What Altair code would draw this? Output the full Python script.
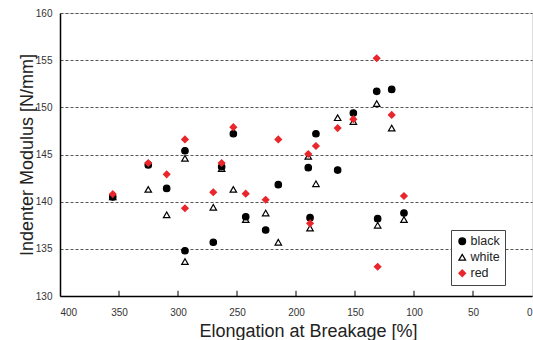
import altair as alt
import pandas as pd

# Elongation at breakage [%] per sample (shared by the three series)
elongation = [355.3, 325.2, 309.6, 294.1, 294.1, 270.1, 263.0, 253.1, 242.6, 225.7,
              215.0, 189.6, 188.1, 183.1, 164.7, 151.4, 131.6, 130.8, 118.9, 108.5]
black = [140.5, 143.9, 141.4, 145.4, 134.8, 135.7, 143.7, 147.2, 138.4, 137.0,
         141.8, 143.6, 138.3, 147.2, 143.35, 149.4, 151.7, 138.2, 151.9, 138.8]
white = [140.5, 141.3, 138.6, 144.6, 133.65, 139.4, 143.5, 141.3, 138.1, 138.8,
         135.7, 144.8, 137.2, 141.9, 148.9, 148.5, 150.4, 137.5, 147.8, 138.1]
red = [140.8, 144.1, 142.9, 146.6, 139.3, 141.0, 144.1, 147.9, 140.85, 140.2,
       146.6, 145.05, 137.7, 145.9, 147.8, 148.75, 155.2, 133.1, 149.2, 140.6]

series_names = ["black", "white", "red"]
x_ticks = [400, 350, 300, 250, 200, 150, 100, 50, 0]
y_ticks = [130, 135, 140, 145, 150, 155, 160]

rows = []
for name, vals in [("white", white), ("black", black), ("red", red)]:
    for e, v in zip(elongation, vals):
        rows.append({"elong": e, "mod": v, "series": name})
df = pd.DataFrame(rows)

W, H = 472, 283
FONT = "Liberation Sans"

xscale = alt.Scale(domain=[400, 0], nice=False, zero=False)
yscale = alt.Scale(domain=[130, 160], nice=False, zero=False)

leg = alt.Legend(orient="none", legendX=391, legendY=217, title=None,
                 strokeColor="#444", fillColor="white", padding=5,
                 labelFont=FONT, labelFontSize=12.5, labelColor="#222",
                 symbolSize=45, symbolStrokeWidth=1.2, rowPadding=3, labelOffset=2)

points = alt.Chart(df).mark_point(filled=False, size=42, strokeWidth=1.2, opacity=1).encode(
    x=alt.X("elong:Q", scale=xscale,
            axis=alt.Axis(values=x_ticks, title="Elongation at Breakage [%]", grid=False,
                          ticks=False, domainColor="black", domainWidth=1.5,
                          labelFont=FONT, labelFontSize=10, labelColor="#333",
                          labelPadding=11, titleFont=FONT, titleFontSize=18,
                          titleFontWeight="normal", titleColor="#222",
                          titleX=248, titleY=35, titleBaseline="middle")),
    y=alt.Y("mod:Q", scale=yscale,
            axis=alt.Axis(values=y_ticks, title="Indenter Modulus [N/mm]", grid=True,
                          gridColor="#555", gridDash=[3, 2], gridWidth=1,
                          ticks=False, domainColor="black", domainWidth=1.5,
                          labelFont=FONT, labelFontSize=10, labelColor="#333",
                          labelPadding=8, titleFont=FONT, titleFontSize=18,
                          titleFontWeight="normal", titleColor="#222",
                          titleX=-33, titleY=H / 2, titleAngle=-90, titleBaseline="middle")),
    shape=alt.Shape("series:N", scale=alt.Scale(domain=series_names,
                    range=["circle", "triangle-up", "diamond"]), legend=leg),
    color=alt.Color("series:N", scale=alt.Scale(domain=series_names,
                    range=["black", "black", "#e8262b"]), legend=leg),
    fill=alt.Fill("series:N", scale=alt.Scale(domain=series_names,
                  range=["black", "white", "#e8262b"]), legend=leg),
    order=alt.Order("ord:Q"),
).transform_calculate(
    ord="datum.series == 'white' ? 0 : (datum.series == 'black' ? 1 : 2)"
)

tick_df = pd.DataFrame({"t": x_ticks[1:-1]})
xticks = alt.Chart(tick_df).mark_rule(color="black", strokeWidth=1).encode(
    x=alt.X("t:Q", scale=xscale),
    y=alt.datum(130, scale=yscale),
    y2=alt.datum(130.55),
)

chart = alt.layer(xticks, points).properties(
    width=W, height=H,
    autosize=alt.AutoSizeParams(type="none"),
    padding={"left": 60, "top": 13, "right": 1, "bottom": 44},
).configure_view(
    stroke="#888", strokeWidth=1
).configure(background="white")

chart.save("out.html", embed_options={"renderer": "svg", "actions": False})
